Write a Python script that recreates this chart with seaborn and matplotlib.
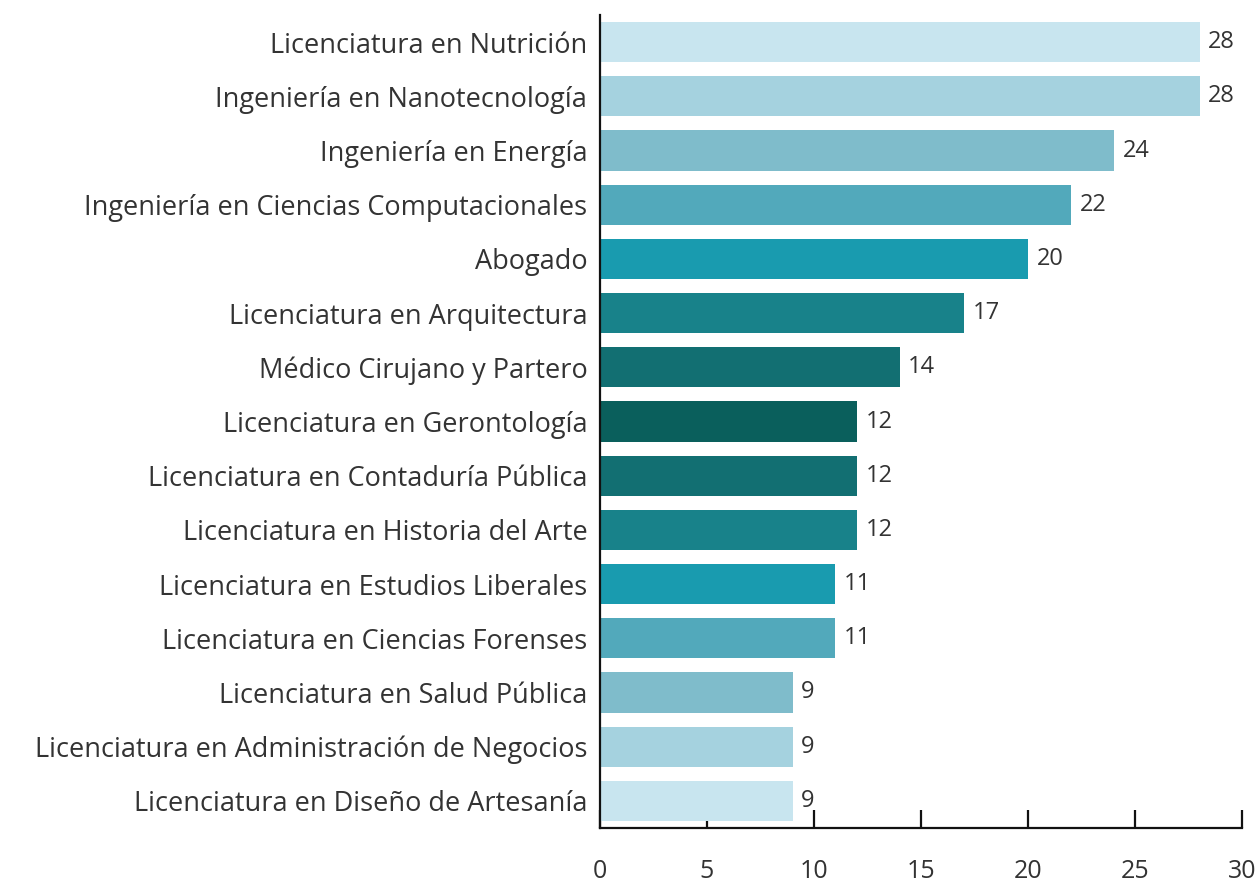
import matplotlib
matplotlib.use("Agg")
import matplotlib.pyplot as plt
import seaborn as sns
import pandas as pd

# Data
careers = [
    "Licenciatura en Nutrición",
    "Ingeniería en Nanotecnología",
    "Ingeniería en Energía",
    "Ingeniería en Ciencias Computacionales",
    "Abogado",
    "Licenciatura en Arquitectura",
    "Médico Cirujano y Partero",
    "Licenciatura en Gerontología",
    "Licenciatura en Contaduría Pública",
    "Licenciatura en Historia del Arte",
    "Licenciatura en Estudios Liberales",
    "Licenciatura en Ciencias Forenses",
    "Licenciatura en Salud Pública",
    "Licenciatura en Administración de Negocios",
    "Licenciatura en Diseño de Artesanía",
]
counts = [28, 28, 24, 22, 20, 17, 14, 12, 12, 12, 11, 11, 9, 9, 9]
bar_colors = [
    "#C8E5EF", "#A5D2DF", "#7FBCCB", "#52A9BB", "#199BAF",
    "#18828A", "#126F72", "#0A5F5C", "#126F72", "#18828A",
    "#199BAF", "#52A9BB", "#7FBCCB", "#A5D2DF", "#C8E5EF",
]
x_ticks = [0, 5, 10, 15, 20, 25, 30]

df = pd.DataFrame({"carrera": careers, "n": counts})

sns.set_style("white")
plt.rcParams["font.family"] = ["Open Sans", "DejaVu Sans"]
text_color = "#333333"

fig = plt.figure(figsize=(12.6, 8.86), dpi=100)
ax = fig.add_axes([0.476, 0.0655, 0.51, 0.9175])

sns.barplot(data=df, x="n", y="carrera", hue="carrera", palette=bar_colors,
            saturation=1, legend=False, width=0.74, ax=ax, edgecolor="none")

# value labels next to each bar
for i, v in enumerate(counts):
    ax.text(v + 0.4, i, str(v), va="center", ha="left", fontsize=17,
            color=text_color)

ax.set_xlim(0, 30)
ax.set_ylim(14.5, -0.5)
ax.set_xticks(x_ticks)
ax.set_xlabel("")
ax.set_ylabel("")

for side in ["top", "right"]:
    ax.spines[side].set_visible(False)
for side in ["left", "bottom"]:
    ax.spines[side].set_color("#111111")
    ax.spines[side].set_linewidth(1.6)

ax.tick_params(axis="x", bottom=True, direction="in", length=13, width=1.6,
               pad=22, labelsize=18, labelcolor=text_color, color="#111111")
ax.tick_params(axis="y", left=False, length=0, pad=9, labelsize=19.5,
               labelcolor=text_color)

fig.savefig("out.png", dpi=100)
